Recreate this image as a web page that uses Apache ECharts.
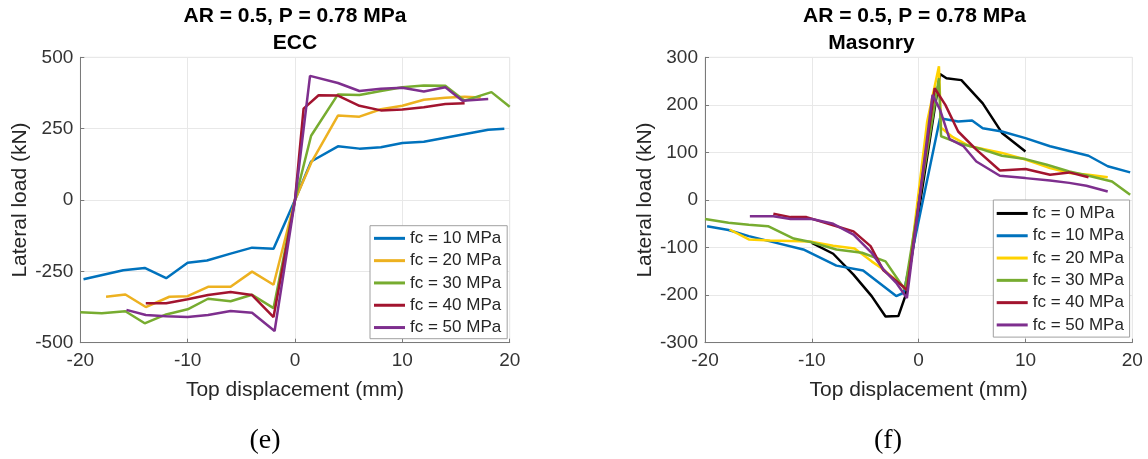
<!DOCTYPE html>
<html>
<head>
<meta charset="utf-8">
<script src="https://cdn.jsdelivr.net/npm/echarts@6/dist/echarts.min.js"></script>
<style>
html,body{margin:0;padding:0;background:#fff;}
#chart{width:1148px;height:459px;}
</style>
</head>
<body>
<div id="chart"></div>
<script>
// ---------- data ----------
const xTicksInterval = 10;
const eccNames = ['fc = 10 MPa', 'fc = 20 MPa', 'fc = 30 MPa', 'fc = 40 MPa', 'fc = 50 MPa'];
const masNames = ['fc = 0 MPa', 'fc = 10 MPa', 'fc = 20 MPa', 'fc = 30 MPa', 'fc = 40 MPa', 'fc = 50 MPa'];

const eccFc10 = [[-19.7,-278],[-16,-246],[-14,-238],[-12,-274],[-10,-220],[-8.2,-212],[-6,-188],[-4,-167],[-2,-171],[0,0],[1.5,135],[4,188],[6,180],[8,185],[10,200],[12,204],[14,218],[16,232],[18,246],[19.5,250]];
const eccFc20 = [[-17.6,-339],[-15.8,-331],[-13.9,-375],[-11.7,-339],[-10,-337],[-8.1,-304],[-6,-304],[-4,-251],[-2,-297],[0,0],[1.5,130],[4,296],[6,292],[8,318],[10,330],[12,351],[14,358],[15.8,362],[17.3,359]];
const eccFc30 = [[-20,-393],[-18,-397],[-15.8,-390],[-14,-432],[-12,-401],[-10,-383],[-8.1,-346],[-6,-355],[-4,-332],[-2,-379],[0,0],[1.5,225],[4,370],[6,368],[8,382],[10,395],[12,401],[14,400],[15.8,348],[18.3,378],[20,327]];
const eccFc40 = [[-13.9,-362],[-12,-362],[-10,-348],[-8.1,-333],[-6,-322],[-4,-333],[-2,-410],[0,0],[0.8,320],[2.2,367],[4,366],[6,330],[8,314],[10,317],[12,325],[14,336],[15.8,339]];
const eccFc50 = [[-15.7,-385],[-13.9,-403],[-12,-407],[-10,-410],[-8.1,-403],[-6,-389],[-4,-395],[-1.9,-459],[0,0],[1.4,435],[4,410],[6,382],[8,390],[10,393],[12,380],[14,395],[15.6,348],[18,354]];

const masFc0 = [[-10,-90],[-8,-113],[-6.1,-157],[-4.4,-202],[-3.1,-245],[-1.9,-244],[-1.2,-199],[2,265],[2.6,256],[4,252],[6,203],[7.8,141],[10,102]];
const masFc10 = [[-19.8,-55],[-17.8,-63],[-15.9,-76],[-13.9,-87],[-10.8,-104],[-7.7,-138],[-5.2,-148],[-2.1,-202],[-1.4,-195],[2,172],[3.7,165],[5,167],[6,151],[7.8,144],[10,130],[12.3,113],[14.1,103],[15.9,93],[17.7,71],[19.8,58]];
const masFc20 = [[-17.7,-62],[-15.9,-83],[-13.9,-85],[-10.2,-87],[-8,-96],[-6,-102],[-4.4,-129],[-3.3,-146],[-1.1,-188],[0.8,165],[1.9,281],[2.1,152],[3.2,132],[4.8,113],[7.8,99],[10,85],[12.3,67],[14.1,57],[15.9,53],[17.7,48]];
const masFc30 = [[-20,-40],[-17.8,-48],[-15.9,-52],[-14.1,-55],[-11.7,-81],[-10,-89],[-7.7,-104],[-5.3,-111],[-3.1,-129],[-1.3,-188],[1.9,256],[2.1,134],[3.7,120],[6,106],[7.8,93],[10,86],[12,74],[14.1,60],[15.9,51],[18.1,39],[19.8,11]];
const masFc40 = [[-13.6,-29],[-12,-36],[-10.5,-36],[-8,-53],[-6.1,-66],[-4.5,-97],[-3.3,-148],[-1.4,-183],[-1.1,-190],[1.5,235],[2.5,200],[3.7,144],[5.4,106],[7.6,62],[10,65],[12.3,53],[14.1,58],[15.9,48]];
const masFc50 = [[-15.8,-34],[-13.6,-34],[-12,-40],[-10,-40],[-8,-50],[-6.1,-73],[-4.4,-111],[-3.3,-146],[-2.1,-174],[-1.1,-206],[1.3,221],[2,190],[2.9,128],[4.2,113],[5.4,81],[7.6,51],[10,46],[12.3,41],[14.1,36],[15.7,30],[17.7,18]];

const eccColors = ['#0072BD', '#EDB120', '#77AC30', '#A2142F', '#7E2F8E'];
const masColors = ['#000000', '#0072BD', '#FFD200', '#77AC30', '#A2142F', '#7E2F8E'];

// ---------- chart ----------
const FONT = '"Liberation Sans", Arial, Helvetica, sans-serif';
const chart = echarts.init(document.getElementById('chart'), null, {renderer: 'canvas'});

function xAx(gi) {
  return {
    gridIndex: gi, type: 'value', min: -20, max: 20, interval: xTicksInterval,
    name: 'Top displacement (mm)', nameLocation: 'middle', nameGap: 37,
    nameTextStyle: {fontFamily: FONT, fontSize: 21, color: '#262626'},
    axisLine: {show: true, onZero: false, lineStyle: {color: '#7a7a7a', width: 1}},
    axisTick: {show: true, inside: true, length: 4, lineStyle: {color: '#7a7a7a'}},
    axisLabel: {fontFamily: FONT, fontSize: 19, color: '#333', margin: 9},
    splitLine: {show: true, lineStyle: {color: '#e8e8e8', width: 1}}
  };
}
function yAx(gi, mn, mx, iv, gap) {
  return {
    gridIndex: gi, type: 'value', min: mn, max: mx, interval: iv,
    name: 'Lateral load (kN)', nameLocation: 'middle', nameGap: gap,
    nameTextStyle: {fontFamily: FONT, fontSize: 21, color: '#262626'},
    axisLine: {show: true, onZero: false, lineStyle: {color: '#7a7a7a', width: 1}},
    axisTick: {show: true, inside: true, length: 4, lineStyle: {color: '#7a7a7a'}},
    axisLabel: {fontFamily: FONT, fontSize: 19, color: '#333', margin: 7},
    splitLine: {show: true, lineStyle: {color: '#e8e8e8', width: 1}}
  };
}
function ser(name, data, color, xi) {
  return {
    name: name, type: 'line', data: data, xAxisIndex: xi, yAxisIndex: xi,
    showSymbol: false, symbol: 'none', animation: false,
    lineStyle: {color: color, width: 2.5}, itemStyle: {color: color}
  };
}
function legend(names, left, top, pad) {
  return {
    data: names.map(n => ({name: n})), orient: 'vertical', left: left, top: top,
    icon: 'rect', itemWidth: 31, itemHeight: 3, itemGap: 0, itemTextGap: 3,
    padding: pad, backgroundColor: '#fff', borderColor: '#a0a0a0', borderWidth: 1,
    textStyle: {fontFamily: FONT, fontSize: 17, color: '#262626', lineHeight: 22.3},
    selectedMode: false
  };
}

const eccData = [eccFc10, eccFc20, eccFc30, eccFc40, eccFc50];
const masData = [masFc0, masFc10, masFc20, masFc30, masFc40, masFc50];
// masonry legend entries use a trailing space so the two panels keep separate legends
const masKeys = masNames.map(n => n + ' ');

const series = [];
eccData.forEach((d, i) => series.push(ser(eccNames[i], d, eccColors[i], 0)));
masData.forEach((d, i) => series.push(ser(masKeys[i], d, masColors[i], 1)));

const option = {
  backgroundColor: '#fff',
  animation: false,
  grid: [
    {left: 80.3, top: 57.3, width: 429.4, height: 285.4, show: true, borderColor: '#e4e4e4', borderWidth: 1, backgroundColor: 'transparent'},
    {left: 705, top: 57.3, width: 427.3, height: 285.4, show: true, borderColor: '#e4e4e4', borderWidth: 1, backgroundColor: 'transparent'}
  ],
  xAxis: [xAx(0), xAx(1)],
  yAxis: [yAx(0, -500, 500, 250, 50), yAx(1, -300, 300, 100, 49)],
  legend: [
    legend(eccNames, 370, 225.7, [1.5, 6, 0, 4]),
    legend(masKeys, 993.3, 200, [2.3, 1, 1, 3.4])
  ],
  series: series,
  graphic: [
    {type: 'text', x: 295, y: 16.7, style: {text: 'AR = 0.5, P = 0.78 MPa', font: 'bold 21px ' + FONT, fill: '#000', textAlign: 'center', textVerticalAlign: 'middle'}},
    {type: 'text', x: 295, y: 43, style: {text: 'ECC', font: 'bold 21px ' + FONT, fill: '#000', textAlign: 'center', textVerticalAlign: 'middle'}},
    {type: 'text', x: 914.5, y: 16.7, style: {text: 'AR = 0.5, P = 0.78 MPa', font: 'bold 21px ' + FONT, fill: '#000', textAlign: 'center', textVerticalAlign: 'middle'}},
    {type: 'text', x: 871.5, y: 43, style: {text: 'Masonry', font: 'bold 21px ' + FONT, fill: '#000', textAlign: 'center', textVerticalAlign: 'middle'}},
    {type: 'text', x: 265, y: 441, style: {text: '(e)', font: '28px "Liberation Serif", "Times New Roman", serif', fill: '#000', textAlign: 'center', textVerticalAlign: 'middle'}},
    {type: 'text', x: 888, y: 441, style: {text: '(f)', font: '28px "Liberation Serif", "Times New Roman", serif', fill: '#000', textAlign: 'center', textVerticalAlign: 'middle'}}
  ]
};
chart.setOption(option);
</script>
</body>
</html>
